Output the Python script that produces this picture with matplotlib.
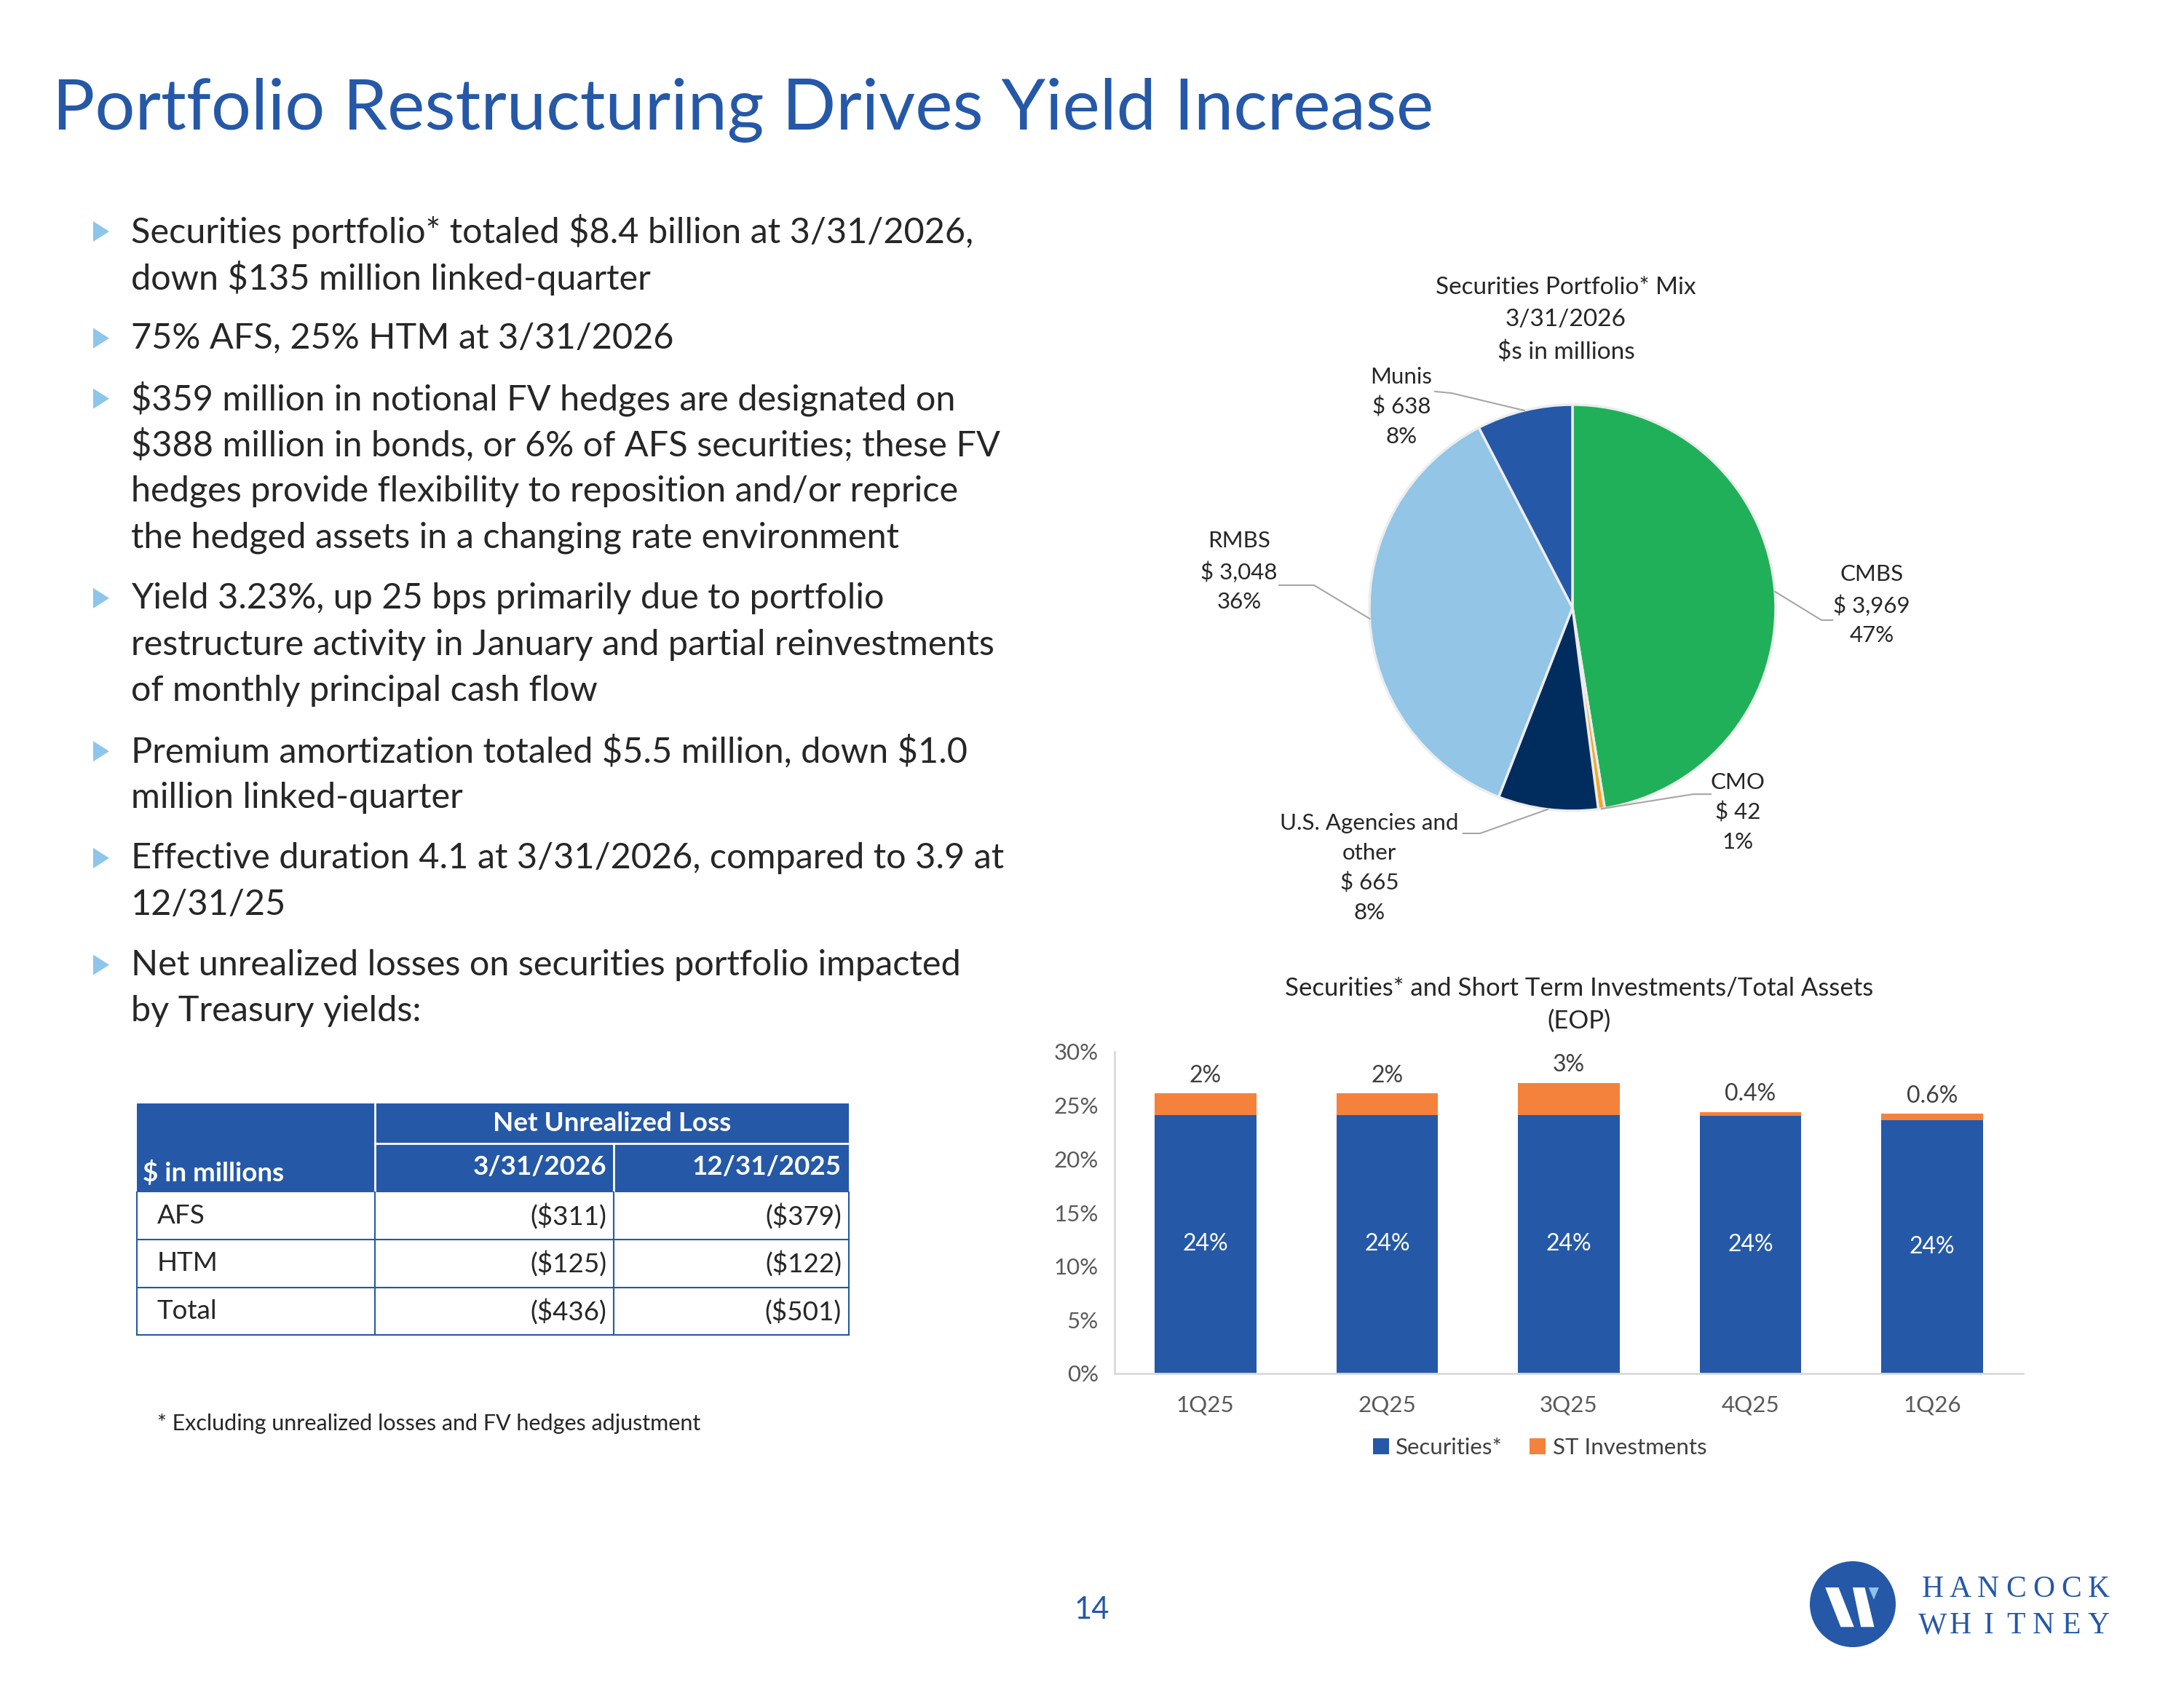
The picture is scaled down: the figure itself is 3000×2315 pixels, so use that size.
import numpy as np
import matplotlib
matplotlib.use("Agg")
import matplotlib.pyplot as plt
from matplotlib.patches import Rectangle, Circle, Polygon

plt.rcParams["font.family"] = ["Lato", "DejaVu Sans"]

W, H = 3000, 2315
BLUE = "#2558A7"
TXT = "#262626"

# ------------------------------------------------------------
# data
# ------------------------------------------------------------
bullets = [
    ["Securities portfolio* totaled $8.4 billion at 3/31/2026,",
     "down $135 million linked-quarter"],
    ["75% AFS, 25% HTM at 3/31/2026"],
    ["$359 million in notional FV hedges are designated on",
     "$388 million in bonds, or 6% of AFS securities; these FV",
     "hedges provide flexibility to reposition and/or reprice",
     "the hedged assets in a changing rate environment"],
    ["Yield 3.23%, up 25 bps primarily due to portfolio",
     "restructure activity in January and partial reinvestments",
     "of monthly principal cash flow"],
    ["Premium amortization totaled $5.5 million, down $1.0",
     "million linked-quarter"],
    ["Effective duration 4.1 at 3/31/2026, compared to 3.9 at",
     "12/31/25"],
    ["Net unrealized losses on securities portfolio impacted",
     "by Treasury yields:"],
]

pie_names = ["CMBS", "CMO", "U.S. Agencies and\nother", "RMBS", "Munis"]
pie_values = [3969, 42, 665, 3048, 638]
pie_colors = ["#21B05A", "#F5A623", "#002D5E", "#92C5E6", "#2558A7"]

quarters = ["1Q25", "2Q25", "3Q25", "4Q25", "1Q26"]
securities_pct = [24.1, 24.1, 24.1, 24.0, 23.6]
st_invest_pct = [2.0, 2.0, 3.0, 0.4, 0.6]

table_rows = ["AFS", "HTM", "Total"]
nul_mar26 = [-311, -125, -436]
nul_dec25 = [-379, -122, -501]


def fig_box(x0, y0, x1, y1):
    # pixel box (top-left origin) -> figure rect
    return [x0 / W, 1 - y1 / H, (x1 - x0) / W, (y1 - y0) / H]


fig = plt.figure(figsize=(W / 100, H / 100), dpi=100)

# overlay axes in pixel coordinates for the slide text
ov = fig.add_axes([0, 0, 1, 1])
ov.set_xlim(0, W)
ov.set_ylim(H, 0)
ov.axis("off")

ov.text(72, 151, "Portfolio Restructuring Drives Yield Increase", fontsize=70,
        color=BLUE, va="center", ha="left")

# bullets
y = 318
for lines in bullets:
    ov.add_patch(Polygon([(128, y - 14), (128, y + 14), (150, y)], closed=True,
                         facecolor="#8DC6EA", edgecolor="none"))
    for ln in lines:
        ov.text(180, y, ln, fontsize=35, color=TXT, va="center", ha="left",
                parse_math=False)
        y += 63.7
    y += 83 - 63.7

# ------------------------------------------------------------
# table
# ------------------------------------------------------------
xs = [188, 515, 843, 1166]
ys = [1516, 1571, 1638, 1703, 1769, 1834]
ov.add_patch(Rectangle((xs[0], ys[0]), xs[3] - xs[0], ys[2] - ys[0],
                       facecolor=BLUE, edgecolor="none"))
ov.plot([xs[1], xs[3]], [ys[1], ys[1]], color="white", lw=2)
ov.plot([xs[1], xs[1]], [ys[0], ys[2]], color="white", lw=2)
ov.plot([xs[2], xs[2]], [ys[1], ys[2]], color="white", lw=2)
for yy in ys[3:]:
    ov.plot([xs[0], xs[3]], [yy, yy], color=BLUE, lw=1.5)
for xx in xs:
    ov.plot([xx, xx], [ys[2], ys[5]], color=BLUE, lw=1.5)

fs_tab = 26.5
ov.text(196, 1612, "$ in millions", fontsize=fs_tab, weight="bold", color="white",
        va="center", ha="left", parse_math=False)
ov.text((xs[1] + xs[3]) / 2, 1544, "Net Unrealized Loss", fontsize=fs_tab,
        weight="bold", color="white", va="center", ha="center")
ov.text(xs[2] - 10, 1604, "3/31/2026", fontsize=fs_tab, weight="bold",
        color="white", va="center", ha="right")
ov.text(xs[3] - 10, 1604, "12/31/2025", fontsize=fs_tab, weight="bold",
        color="white", va="center", ha="right")
for i, name in enumerate(table_rows):
    yc = (ys[2 + i] + ys[3 + i]) / 2
    ov.text(216, yc, name, fontsize=fs_tab, color=TXT, va="center", ha="left")
    ov.text(xs[2] - 10, yc, f"(${-nul_mar26[i]})", fontsize=fs_tab, color=TXT,
            va="center", ha="right", parse_math=False)
    ov.text(xs[3] - 10, yc, f"(${-nul_dec25[i]})", fontsize=fs_tab, color=TXT,
            va="center", ha="right", parse_math=False)

ov.text(216, 1956, "* Excluding unrealized losses and FV hedges adjustment",
        fontsize=22, color=TXT, va="center", ha="left")

# page number + logo
ov.text(1500, 2212, "14", fontsize=30, color=BLUE, va="center", ha="center")
cx, cy, r = 2545, 2204, 59
ov.add_patch(Circle((cx, cy), r, facecolor=BLUE, edgecolor="none"))
mark1 = [(-0.64, -0.39), (-0.33, -0.39), (0.03, 0.53), (-0.28, 0.53)]
mark2 = [(0.0, -0.39), (0.28, -0.39), (0.50, 0.53), (0.19, 0.53)]
tri = [(0.37, -0.39), (0.61, -0.39), (0.49, -0.11)]
for pts, col in [(mark1, "white"), (mark2, "white"), (tri, "#8EC3E6")]:
    ov.add_patch(Polygon([(cx + a * r, cy + b * r) for a, b in pts],
                         closed=True, facecolor=col, edgecolor="none"))
for word, yy in [("HANCOCK", 2184), ("WHITNEY", 2234)]:
    pitch = 266 / len(word)
    for k, ch in enumerate(word):
        ov.text(2636 + (k + 0.5) * pitch, yy, ch, family="Liberation Serif",
                fontsize=30, color=BLUE, va="center", ha="center")

# ------------------------------------------------------------
# pie
# ------------------------------------------------------------
pcx, pcy, pr = 2160, 835, 279
half = 520
ax_pie = fig.add_axes(fig_box(pcx - half, pcy - half, pcx + half, pcy + half))
wedges, _ = ax_pie.pie(pie_values, colors=pie_colors, startangle=90,
                       counterclock=False, radius=1,
                       wedgeprops=dict(edgecolor="#EDEDED", linewidth=2.5))
lim = half / pr
ax_pie.set_xlim(-lim, lim)
ax_pie.set_ylim(-lim, lim)
ax_pie.axis("off")

total = sum(pie_values)
# label centre, elbow point, leader end (label side) -- in pie radius units
label_pos = [
    ((1.473, 0.014), (1.226, -0.061), (1.28, -0.061)),
    ((0.814, -1.007), (0.594, -0.918), (0.681, -0.918)),
    ((-1.0, -1.282), (-0.455, -1.111), (-0.538, -1.111)),
    ((-1.642, 0.179), (-1.272, 0.111), (-1.444, 0.111)),
    ((-0.842, 0.989), (-0.595, 1.057), (-0.677, 1.065)),
]
for w, name, val, (tpos, elbow, lend) in zip(wedges, pie_names, pie_values, label_pos):
    ang = np.deg2rad((w.theta1 + w.theta2) / 2)
    p0 = (np.cos(ang), np.sin(ang))
    ax_pie.plot([p0[0], elbow[0], lend[0]], [p0[1], elbow[1], lend[1]],
                color="#A6A6A6", lw=1.5, clip_on=False)
    txt = f"{name}\n$ {val:,}\n{100 * val / total:.0f}%"
    ax_pie.text(tpos[0], tpos[1], txt, fontsize=22.5, color=TXT, ha="center",
                va="center", linespacing=1.55, parse_math=False)

ov.text(2151, 440, "Securities Portfolio* Mix\n3/31/2026\n$s in millions",
        fontsize=24, color=TXT, ha="center", va="center", linespacing=1.58,
        parse_math=False)

# ------------------------------------------------------------
# stacked bars
# ------------------------------------------------------------
ax = fig.add_axes(fig_box(1531, 1445, 2779, 1887))
xpos = np.arange(len(quarters))
b1 = ax.bar(xpos, securities_pct, width=0.56, color="#2559A7", label="Securities*")
b2 = ax.bar(xpos, st_invest_pct, width=0.56, bottom=securities_pct,
            color="#F4823C", label="ST Investments")
ax.bar_label(b1, labels=[f"{v:.0f}%" for v in securities_pct], label_type="center",
             color="white", fontsize=23)
ax.bar_label(b2, labels=[f"{v:.1f}%" if v < 1 else f"{v:.0f}%" for v in st_invest_pct],
             padding=7, color="#404040", fontsize=23)
ax.set_xlim(-0.5, 4.5)
ax.set_ylim(0, 30)
ax.set_yticks(range(0, 31, 5))
ax.set_yticklabels([f"{v}%" for v in range(0, 31, 5)])
ax.set_xticks(xpos)
ax.set_xticklabels(quarters)
ax.tick_params(axis="both", length=0, labelsize=22.5, labelcolor="#595959")
ax.tick_params(axis="x", pad=21)
ax.tick_params(axis="y", pad=16)
for s in ["top", "right"]:
    ax.spines[s].set_visible(False)
for s in ["left", "bottom"]:
    ax.spines[s].set_color("#D9D9D9")
    ax.spines[s].set_linewidth(2)
ax.set_facecolor("none")
ax.legend(loc="center", bbox_to_anchor=(0.468, -0.231), ncol=2, frameon=False,
          fontsize=22.5, handlelength=0.7, handleheight=0.7, handletextpad=0.3,
          columnspacing=1.2, labelcolor="#404040")
ov.text(2169, 1380, "Securities* and Short Term Investments/Total Assets\n(EOP)",
        fontsize=25, color=TXT, ha="center", va="center", linespacing=1.5)

fig.savefig("out.png", dpi=100)
